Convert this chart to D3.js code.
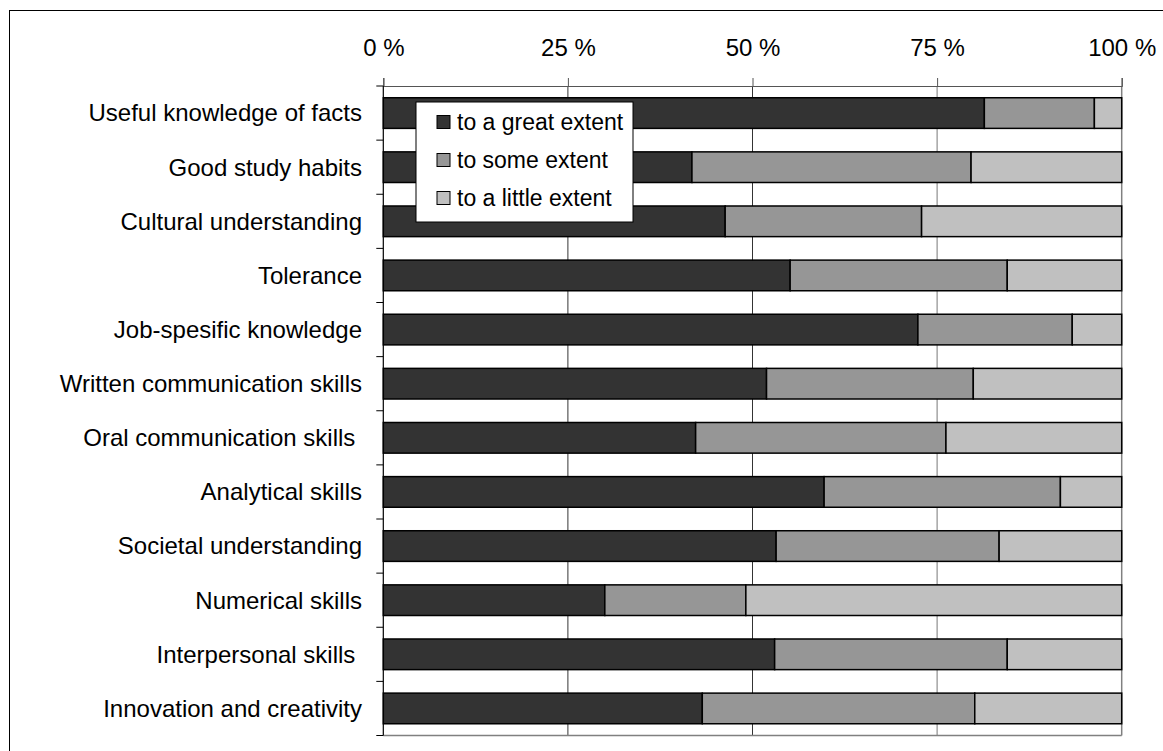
<!DOCTYPE html>
<html>
<head>
<meta charset="utf-8">
<script src="https://cdn.jsdelivr.net/npm/d3@7"></script>
<style>
  body { margin: 0; background: #fff; }
  text { font-family: "Liberation Sans", Arial, sans-serif; fill: #000; }
</style>
</head>
<body>
<script>
// data (percent of respondents)
let categories = ["Useful knowledge of facts", "Good study habits", "Cultural understanding",
    "Tolerance", "Job-spesific knowledge", "Written communication skills",
    "Oral communication skills ", "Analytical skills", "Societal understanding",
    "Numerical skills", "Interpersonal skills ", "Innovation and creativity"];
let greatExtent  = [81.4, 41.8, 46.3, 55.1, 72.4, 51.9, 42.3, 59.7, 53.2, 30.0, 53.0, 43.2];
let someExtent   = [14.9, 37.8, 26.6, 29.4, 20.9, 28.0, 33.9, 32.0, 30.2, 19.1, 31.5, 36.9];
let littleExtent = [ 3.7, 20.4, 27.1, 15.5,  6.7, 20.1, 23.8,  8.3, 16.6, 50.9, 15.5, 19.9];
let seriesNames  = ["to a great extent", "to some extent", "to a little extent"];
let seriesColors = ["#333333", "#969696", "#c0c0c0"];
let xTicks = [0, 25, 50, 75, 100];

let svg = d3.select("body").append("svg")
    .attr("width", 1163)
    .attr("height", 751);

// outer chart border (runs off the right/bottom of the picture)
svg.append("rect")
    .attr("x", 9.5).attr("y", 10.5)
    .attr("width", 1170).attr("height", 760)
    .attr("fill", "none").attr("stroke", "#000").attr("stroke-width", 1);

let plotLeft = 383.3, plotRight = 1121.7, plotTop = 86, plotBottom = 735.5;

let x = d3.scaleLinear().domain([0, 100]).range([plotLeft, plotRight]);
let y = d3.scaleBand().domain(categories).range([plotTop, plotBottom]).paddingInner(0.434).paddingOuter(0.217);

// gridlines
svg.append("g").selectAll("line")
    .data(xTicks.slice(1))
    .join("line")
    .attr("x1", d => x(d)).attr("x2", d => x(d))
    .attr("y1", plotTop).attr("y2", plotBottom)
    .attr("stroke", d => d == 100 ? "#808080" : d == 75 ? "#555" : "#000")
    .attr("stroke-width", d => d == 100 ? 1.5 : 0.8);

// bottom plot border
svg.append("line")
    .attr("x1", plotLeft).attr("x2", plotRight)
    .attr("y1", plotBottom).attr("y2", plotBottom)
    .attr("stroke", "#808080").attr("stroke-width", 1.5);

// stacked bars
let rows = categories.map((c, i) => ({cat: c, vals: [greatExtent[i], someExtent[i], littleExtent[i]]}));
let stacked = d3.stack().keys([0, 1, 2]).value((d, k) => d.vals[k])(rows);

svg.append("g").selectAll("g")
    .data(stacked)
    .join("g")
    .attr("fill", (d, i) => seriesColors[i])
    .selectAll("rect")
    .data(d => d)
    .join("rect")
    .attr("x", d => x(d[0]))
    .attr("y", d => y(d.data.cat))
    .attr("width", d => x(d[1]) - x(d[0]))
    .attr("height", y.bandwidth())
    .attr("stroke", "#000")
    .attr("stroke-width", 1.5);

// top axis
let xAxis = svg.append("g")
    .attr("transform", `translate(0,${plotTop})`)
    .call(d3.axisTop(x).tickValues(xTicks).tickFormat(d => d + " %").tickSize(8).tickPadding(22));
xAxis.select(".domain").attr("stroke", "#555").attr("stroke-width", 1.2);
xAxis.selectAll(".tick line").attr("stroke", "#555");
xAxis.selectAll("text").attr("font-size", 24).attr("font-family", "Liberation Sans, Arial, sans-serif");

// left axis: ticks between the categories
let yAxis = svg.append("g");
yAxis.append("line")
    .attr("x1", plotLeft).attr("x2", plotLeft)
    .attr("y1", plotTop).attr("y2", plotBottom)
    .attr("stroke", "#000").attr("stroke-width", 1.2);
yAxis.selectAll("line.tk")
    .data(d3.range(categories.length + 1))
    .join("line")
    .attr("class", "tk")
    .attr("x1", plotLeft - 7).attr("x2", plotLeft)
    .attr("y1", i => plotTop + i * y.step())
    .attr("y2", i => plotTop + i * y.step())
    .attr("stroke", "#000").attr("stroke-width", 1);
yAxis.selectAll("text")
    .data(categories)
    .join("text")
    .attr("x", 362)
    .attr("y", d => y(d) + y.bandwidth() / 2)
    .attr("dy", "0.35em")
    .attr("text-anchor", "end")
    .attr("font-size", 24)
    .style("white-space", "pre")
    .text(d => d);

// legend
let legend = svg.append("g").attr("transform", "translate(416,102)");
legend.append("rect")
    .attr("width", 217).attr("height", 120)
    .attr("fill", "#fff").attr("stroke", "#000").attr("stroke-width", 1);
let item = legend.selectAll("g.item")
    .data(seriesNames)
    .join("g")
    .attr("class", "item")
    .attr("transform", (d, i) => `translate(21,${20 + i * 38})`);
item.append("rect")
    .attr("x", 0).attr("y", -6.5)
    .attr("width", 13).attr("height", 13)
    .attr("fill", (d, i) => seriesColors[i])
    .attr("stroke", "#000").attr("stroke-width", 1);
item.append("text")
    .attr("x", 20).attr("y", 0)
    .attr("dy", "0.35em")
    .attr("font-size", 23)
    .text(d => d);
</script>
</body>
</html>
